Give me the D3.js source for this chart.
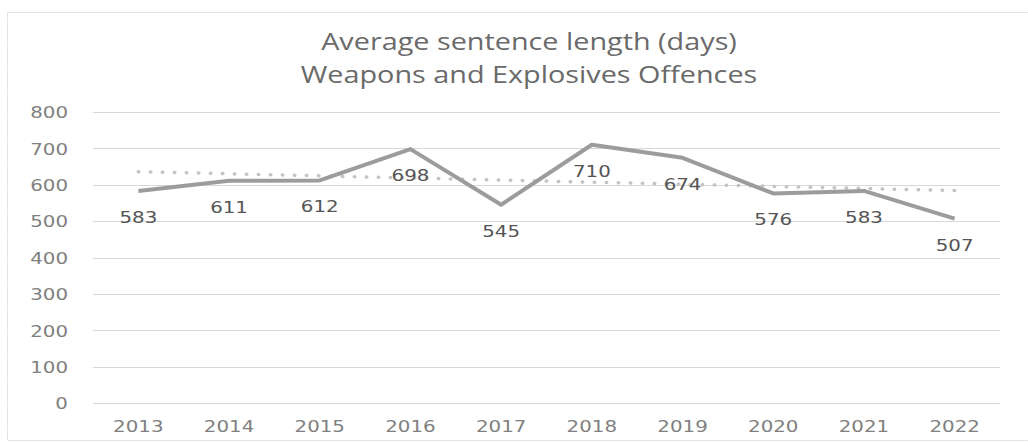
<!DOCTYPE html>
<html>
<head>
<meta charset="utf-8">
<script src="https://cdn.jsdelivr.net/npm/d3@7"></script>
<style>
  html, body { margin: 0; padding: 0; background: #fff; }
  svg { display: block; }
</style>
</head>
<body>
<svg id="chart" width="1028" height="443"></svg>
<script>
// Average sentence length (days), weapons and explosives offences
const years = ["2013", "2014", "2015", "2016", "2017", "2018", "2019", "2020", "2021", "2022"];
const avgDays = [583, 611, 612, 698, 545, 710, 674, 576, 583, 507];
// Linear trendline end values (first and last year)
const trendValues = [636, 584];
const yTicks = [0, 100, 200, 300, 400, 500, 600, 700, 800];
const titleLines = ["Average sentence length (days)", "Weapons and Explosives Offences"];

const svg = d3.select("#chart");
const W = 1028, H = 443;
const plot = { left: 93, right: 1000, top: 112, bottom: 403 };
const numFont = "'DejaVu Sans', sans-serif";
const numStretch = 1.24;   // wide digits
const titleStretch = 1.2;

// Chart frame
svg.append("rect")
  .attr("x", 7.5).attr("y", 12.5)
  .attr("width", W + 10).attr("height", 428)
  .attr("fill", "none")
  .attr("stroke", "#d6d6d6")
  .attr("stroke-width", 1)
  .attr("stroke-dasharray", "2 1");

const x = d3.scaleBand().domain(years).range([plot.left, plot.right]).padding(0);
const y = d3.scaleLinear().domain([0, 800]).range([plot.bottom, plot.top]);
const cx = d => x(d) + x.bandwidth() / 2;

// Title
svg.append("g").selectAll("text")
  .data(titleLines)
  .join("text")
  .attr("transform", (d, i) => `translate(529,${50 + i * 33}) scale(${titleStretch},1)`)
  .attr("text-anchor", "middle")
  .attr("font-family", "'Open Sans', sans-serif")
  .attr("font-size", 24)
  .attr("fill", "#6a6a6a")
  .text(d => d);

// Horizontal gridlines
svg.append("g").selectAll("line")
  .data(yTicks)
  .join("line")
  .attr("x1", plot.left).attr("x2", plot.right)
  .attr("y1", d => Math.round(y(d)) + 0.5)
  .attr("y2", d => Math.round(y(d)) + 0.5)
  .attr("stroke", "#d8d8d8")
  .attr("stroke-width", 1);

// Y axis labels
const yAxis = d3.axisLeft(y).tickValues(yTicks).tickSize(0).tickPadding(0);
const gy = svg.append("g").attr("transform", "translate(68,0)").call(yAxis);
gy.select(".domain").remove();
gy.selectAll("text")
  .attr("font-family", numFont)
  .attr("font-size", 16)
  .attr("transform", `scale(${numStretch},1)`)
  .attr("fill", "#808080")
  .attr("dy", "0.36em");

// X axis labels
const xAxis = d3.axisBottom(x).tickSize(0).tickPadding(0);
const gx = svg.append("g").attr("transform", "translate(0,420)").call(xAxis);
gx.select(".domain").remove();
gx.selectAll("text")
  .attr("font-family", numFont)
  .attr("font-size", 16)
  .attr("transform", `scale(${numStretch},1)`)
  .attr("fill", "#808080")
  .attr("dy", "0.75em");

// Linear trendline (dotted)
svg.append("line")
  .attr("x1", cx(years[0])).attr("y1", y(trendValues[0]))
  .attr("x2", cx(years[years.length - 1])).attr("y2", y(trendValues[1]))
  .attr("stroke", "#c4c4c4")
  .attr("stroke-width", 3.5)
  .attr("stroke-linecap", "round")
  .attr("stroke-dasharray", "0.5 11.5");

// Series line
const line = d3.line()
  .x((d, i) => cx(years[i]))
  .y(d => y(d));

svg.append("path")
  .datum(avgDays)
  .attr("d", line)
  .attr("fill", "none")
  .attr("stroke", "#9c9c9c")
  .attr("stroke-width", 4)
  .attr("stroke-linejoin", "round");

// Data labels below each point
svg.append("g").selectAll("text")
  .data(avgDays)
  .join("text")
  .attr("transform", (d, i) => `translate(${cx(years[i])},${y(d) + 32}) scale(${numStretch},1)`)
  .attr("text-anchor", "middle")
  .attr("font-family", numFont)
  .attr("font-size", 16)
  .attr("fill", "#555555")
  .text(d => d);
</script>
</body>
</html>
